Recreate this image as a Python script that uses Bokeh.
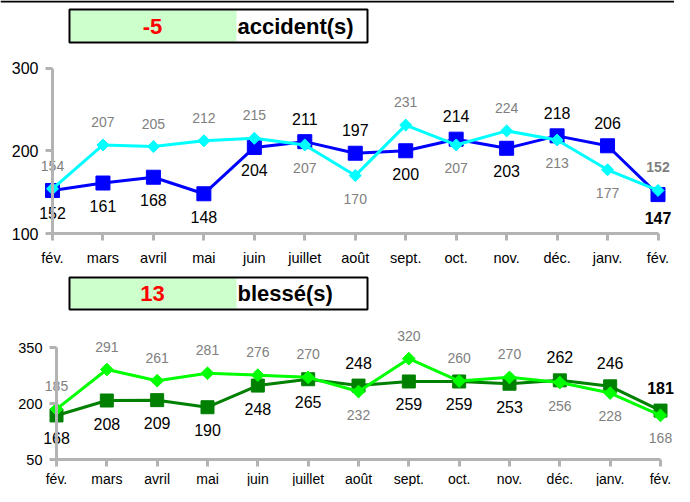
import math
from bokeh.plotting import figure
from bokeh.models import Range1d, FixedTicker, ColumnDataSource
from bokeh.layouts import column
from bokeh.core.properties import value
from bokeh.embed import file_html
from bokeh.resources import INLINE

# ---------------- data ----------------
months = ["fév.", "mars", "avril", "mai", "juin", "juillet", "août",
          "sept.", "oct.", "nov.", "déc.", "janv.", "fév."]
acc_cur = [152, 161, 168, 148, 204, 211, 197, 200, 214, 203, 218, 206, 147]
acc_prev = [154, 207, 205, 212, 215, 207, 170, 231, 207, 224, 213, 177, 152]
bl_cur = [168, 208, 209, 190, 248, 265, 248, 259, 259, 253, 262, 246, 181]
bl_prev = [185, 291, 261, 281, 276, 270, 232, 320, 260, 270, 256, 228, 168]
acc_ticks = [100, 200, 300]
bl_ticks = [50, 200, 350]
acc_title = "accident(s)"
bl_title = "blessé(s)"

FONT = value("Liberation Sans")
W = 674
AXIS_GREY = "#b3b3b3"
LABEL_GREY = "#808080"


def base_fig(h, xr, yr):
    p = figure(width=W, height=h, x_range=xr, y_range=yr,
               output_backend="svg", toolbar_location=None,
               min_border=0, min_border_left=0, min_border_right=0,
               min_border_top=0, min_border_bottom=0)
    p.grid.visible = False
    p.outline_line_color = None
    return p


def header(diff, title, h, box_top, box_bot, text_y, top_rule=False):
    p = base_fig(h, Range1d(0, W), Range1d(h, 0))
    p.xaxis.visible = False
    p.yaxis.visible = False
    if top_rule:
        p.segment(x0=[0], y0=[1], x1=[W], y1=[1], line_color="black", line_width=2)
    p.quad(left=[70], right=[236], top=[box_top + 1], bottom=[box_bot - 1],
           fill_color="#ccffcc", line_color=None)
    p.quad(left=[69], right=[367], top=[box_top], bottom=[box_bot],
           fill_color=None, line_color="black", line_width=2)
    p.text(x=[152], y=[text_y], text=[str(diff)], text_color="#ff0000",
           text_font=FONT, text_font_style="bold", text_font_size="22px",
           text_align="center", text_baseline="middle")
    p.text(x=[237], y=[text_y], text=[title], text_color="black",
           text_font=FONT, text_font_style="bold", text_font_size="22px",
           text_align="left", text_baseline="middle")
    return p


def chart(cur, prev, ticks, h, ax0, ax12, yhi_px, ylo_px,
          cur_color, prev_color, sq_size, dia_size, ytick_fs, xtick_fs,
          xstandoff, last_prev_bold):
    kx = (ax12 - ax0) / 12.0
    xs = -ax0 / kx
    xe = 12 + (W - ax12) / kx
    ky = (ylo_px - yhi_px) / float(ticks[-1] - ticks[0])
    ye = ticks[-1] + yhi_px / ky
    ys = ticks[0] - (h - ylo_px) / ky
    p = base_fig(h, Range1d(xs, xe), Range1d(ys, ye))
    for ax in p.axis:
        ax.axis_line_color = AXIS_GREY
        ax.axis_line_width = 3
        ax.major_tick_line_color = AXIS_GREY
        ax.major_tick_line_width = 3
        ax.major_tick_in = 0
        ax.major_tick_out = 7
        ax.minor_tick_line_color = None
        ax.major_label_text_font = "Liberation Sans"
        ax.major_label_text_color = "black"
    p.xaxis.ticker = FixedTicker(ticks=list(range(len(months))))
    p.xaxis.major_label_overrides = {i: m for i, m in enumerate(months)}
    p.xaxis.bounds = (0, len(months) - 1)
    p.xaxis.fixed_location = ticks[0]
    p.xaxis.major_label_text_font_size = xtick_fs
    p.xaxis.major_label_standoff = xstandoff
    p.yaxis.ticker = FixedTicker(ticks=ticks)
    p.yaxis.bounds = (ticks[0], ticks[-1])
    p.yaxis.fixed_location = 0
    p.yaxis.major_label_text_font_size = ytick_fs
    p.yaxis.major_label_standoff = 7

    n = len(cur)
    x = list(range(n))
    cur_up = [c >= q for c, q in zip(cur, prev)]
    src = ColumnDataSource(dict(
        x=x, cur=cur, prev=prev,
        cur_txt=[str(v) for v in cur], prev_txt=[str(v) for v in prev],
        cur_off=[-23 if u else 23 for u in cur_up],
        prev_off=[23 if u else -23 for u in cur_up],
        cur_style=["bold" if i == n - 1 else "normal" for i in x],
        prev_style=["bold" if (i == n - 1 and last_prev_bold) else "normal" for i in x],
    ))
    p.line("x", "cur", source=src, line_color=cur_color, line_width=3)
    p.scatter("x", "cur", source=src, marker="square", size=sq_size,
              fill_color=cur_color, line_color=cur_color)
    p.line("x", "prev", source=src, line_color=prev_color, line_width=3)
    p.scatter("x", "prev", source=src, marker="square", angle=math.pi / 4,
              size=dia_size, fill_color=prev_color, line_color=prev_color)
    p.text("x", "prev", text="prev_txt", source=src, y_offset="prev_off",
           text_color=LABEL_GREY, text_font=FONT,
           text_font_size="14px", text_font_style="prev_style",
           text_align="center", text_baseline="middle")
    p.text("x", "cur", text="cur_txt", source=src, y_offset="cur_off",
           text_color="black", text_font=FONT,
           text_font_size="16px", text_font_style="cur_style",
           text_align="center", text_baseline="middle")
    return p


# header 1: canvas rows 0..50
h1 = header(acc_cur[-1] - acc_prev[-1], acc_title, 50, 9, 42, 26, top_rule=True)
# chart 1: canvas rows 50..270 (300 at 17.5, 100 at 183)
c1 = chart(acc_cur, acc_prev, acc_ticks, 220, 52, 657.5, 17.5, 183,
           "#0000ff", "#00ffff", 14, 8.5, "16px", "14.5px", 9, True)
# header 2: canvas rows 270..318
h2 = header(bl_cur[-1] - bl_prev[-1], bl_title, 48, 7, 39, 23)
# chart 2: canvas rows 318..486 (350 at 29, 50 at 141)
c2 = chart(bl_cur, bl_prev, bl_ticks, 168, 56, 660, 29, 141,
           "#008000", "#00ff00", 13, 9, "14.5px", "14px", 4, False)

layout = column(h1, c1, h2, c2, spacing=0)
open("out.html", "w").write(file_html(layout, INLINE))
